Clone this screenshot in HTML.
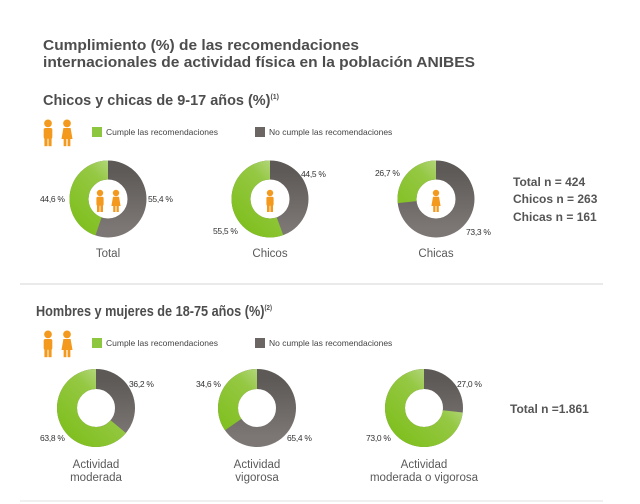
<!DOCTYPE html>
<html><head><meta charset="utf-8"><style>
html,body{margin:0;padding:0;background:#fff;}
svg{display:block;font-family:"Liberation Sans",sans-serif;}
</style></head><body>
<svg width="640" height="504" viewBox="0 0 640 504" xmlns="http://www.w3.org/2000/svg">
<defs>
<linearGradient id="g" x1="0" y1="1" x2="1" y2="0"><stop offset="0" stop-color="#7fbf1e"/><stop offset="0.6" stop-color="#95c843"/><stop offset="1" stop-color="#c5dfa0"/></linearGradient>
<linearGradient id="k" x1="0" y1="0" x2="0" y2="1"><stop offset="0" stop-color="#5d5956"/><stop offset="1" stop-color="#7c7774"/></linearGradient>
<g id="boy"><circle cx="0" cy="-8" r="3.2" fill="#f39a1e"/><rect x="-3.6" y="-4.2" width="7.2" height="9" rx="1.5" fill="#f39a1e"/><rect x="-3" y="3" width="2.6" height="8" fill="#f39a1e"/><rect x="0.4" y="3" width="2.6" height="8" fill="#f39a1e"/></g>
<g id="girl"><circle cx="0" cy="-8" r="3.2" fill="#f39a1e"/><path d="M-3,-4.2 H3 L4.6,5 H-4.6 Z" fill="#f39a1e"/><rect x="-2.8" y="4" width="2.3" height="7" fill="#f39a1e"/><rect x="0.5" y="4" width="2.3" height="7" fill="#f39a1e"/></g>
</defs>
<rect width="640" height="504" fill="#fff"/>
<g fill="#4d4d4d" font-weight="bold">
<text x="43" y="50" font-size="14.5" textLength="316" lengthAdjust="spacingAndGlyphs">Cumplimiento (%) de las recomendaciones</text>
<text x="43" y="67" font-size="14.5" textLength="432" lengthAdjust="spacingAndGlyphs">internacionales de actividad física en la población ANIBES</text>
<text x="43" y="105" font-size="14.5" textLength="236" lengthAdjust="spacingAndGlyphs">Chicos y chicas de 9-17 años (%)<tspan font-size="7" dy="-6">(1)</tspan></text>
<text x="36" y="316" font-size="14.5" textLength="236" lengthAdjust="spacingAndGlyphs">Hombres y mujeres de 18-75 años (%)<tspan font-size="7" dy="-6">(2)</tspan></text>
</g>
<line x1="20" y1="284" x2="603" y2="284" stroke="#e4e4e4" stroke-width="1.5"/>
<line x1="20" y1="501" x2="603" y2="501" stroke="#ececec" stroke-width="1.5"/>
<g transform="translate(48,133) scale(1.2)"><use href="#boy"/></g><g transform="translate(67,133) scale(1.2)"><use href="#girl"/></g>
<rect x="92" y="127" width="10" height="10" fill="#8dc63f"/>
<text x="106" y="135" font-size="8.5" fill="#444">Cumple las recomendaciones</text>
<rect x="255" y="127" width="10" height="10" fill="#6b6664"/>
<text x="269" y="135" font-size="8.5" fill="#444">No cumple las recomendaciones</text>
<g transform="translate(48,344) scale(1.2)"><use href="#boy"/></g><g transform="translate(67,344) scale(1.2)"><use href="#girl"/></g>
<rect x="92" y="338" width="10" height="10" fill="#8dc63f"/>
<text x="106" y="346" font-size="8.5" fill="#444">Cumple las recomendaciones</text>
<rect x="255" y="338" width="10" height="10" fill="#6b6664"/>
<text x="269" y="346" font-size="8.5" fill="#444">No cumple las recomendaciones</text>
<g transform="translate(108,199)"><circle r="29" fill="none" stroke="url(#k)" stroke-width="19"/><circle r="29" fill="none" stroke="url(#g)" stroke-width="19" stroke-dasharray="81.27 200" transform="scale(-1,1) rotate(-90)"/><use href="#boy" x="-8" y="2"/><use href="#girl" x="8" y="2"/></g>
<g transform="translate(270,199)"><circle r="29" fill="none" stroke="url(#k)" stroke-width="19"/><circle r="29" fill="none" stroke="url(#g)" stroke-width="19" stroke-dasharray="101.13 200" transform="scale(-1,1) rotate(-90)"/><use href="#boy" x="0" y="2"/></g>
<g transform="translate(436,199)"><circle r="29" fill="none" stroke="url(#k)" stroke-width="19"/><circle r="29" fill="none" stroke="url(#g)" stroke-width="19" stroke-dasharray="48.65 200" transform="scale(-1,1) rotate(-90)"/><use href="#girl" x="0" y="2"/></g>
<g transform="translate(96,408)"><circle r="29" fill="none" stroke="url(#k)" stroke-width="20"/><circle r="29" fill="none" stroke="url(#g)" stroke-width="20" stroke-dasharray="116.25 200" transform="scale(-1,1) rotate(-90)"/></g>
<g transform="translate(257,408)"><circle r="29" fill="none" stroke="url(#k)" stroke-width="20"/><circle r="29" fill="none" stroke="url(#g)" stroke-width="20" stroke-dasharray="63.04 200" transform="scale(-1,1) rotate(-90)"/></g>
<g transform="translate(424,408)"><circle r="29" fill="none" stroke="url(#k)" stroke-width="20"/><circle r="29" fill="none" stroke="url(#g)" stroke-width="20" stroke-dasharray="133.01 200" transform="scale(-1,1) rotate(-90)"/></g>
<g font-size="8.5" fill="#333" letter-spacing="-0.3">
<text x="40" y="202">44,6 %</text>
<text x="148" y="202">55,4 %</text>
<text x="301" y="177">44,5 %</text>
<text x="213" y="234">55,5 %</text>
<text x="375" y="176">26,7 %</text>
<text x="466" y="235">73,3 %</text>
<text x="129" y="387">36,2 %</text>
<text x="40" y="441">63,8 %</text>
<text x="196" y="387">34,6 %</text>
<text x="287" y="441">65,4 %</text>
<text x="457" y="387">27,0 %</text>
<text x="366" y="441">73,0 %</text>
</g>
<g font-size="11.5" fill="#5a5a5a" text-anchor="middle">
<text x="108" y="257">Total</text>
<text x="270" y="257">Chicos</text>
<text x="436" y="257">Chicas</text>
<text x="96" y="468">Actividad</text><text x="96" y="481">moderada</text>
<text x="257" y="468">Actividad</text><text x="257" y="481">vigorosa</text>
<text x="424" y="468">Actividad</text><text x="424" y="481">moderada o vigorosa</text>
</g>
<g font-size="12" font-weight="bold" fill="#555">
<text x="513" y="186">Total n = 424</text>
<text x="513" y="203">Chicos n = 263</text>
<text x="513" y="221">Chicas n = 161</text>
<text x="510" y="413">Total n =1.861</text>
</g>
</svg>
</body></html>
